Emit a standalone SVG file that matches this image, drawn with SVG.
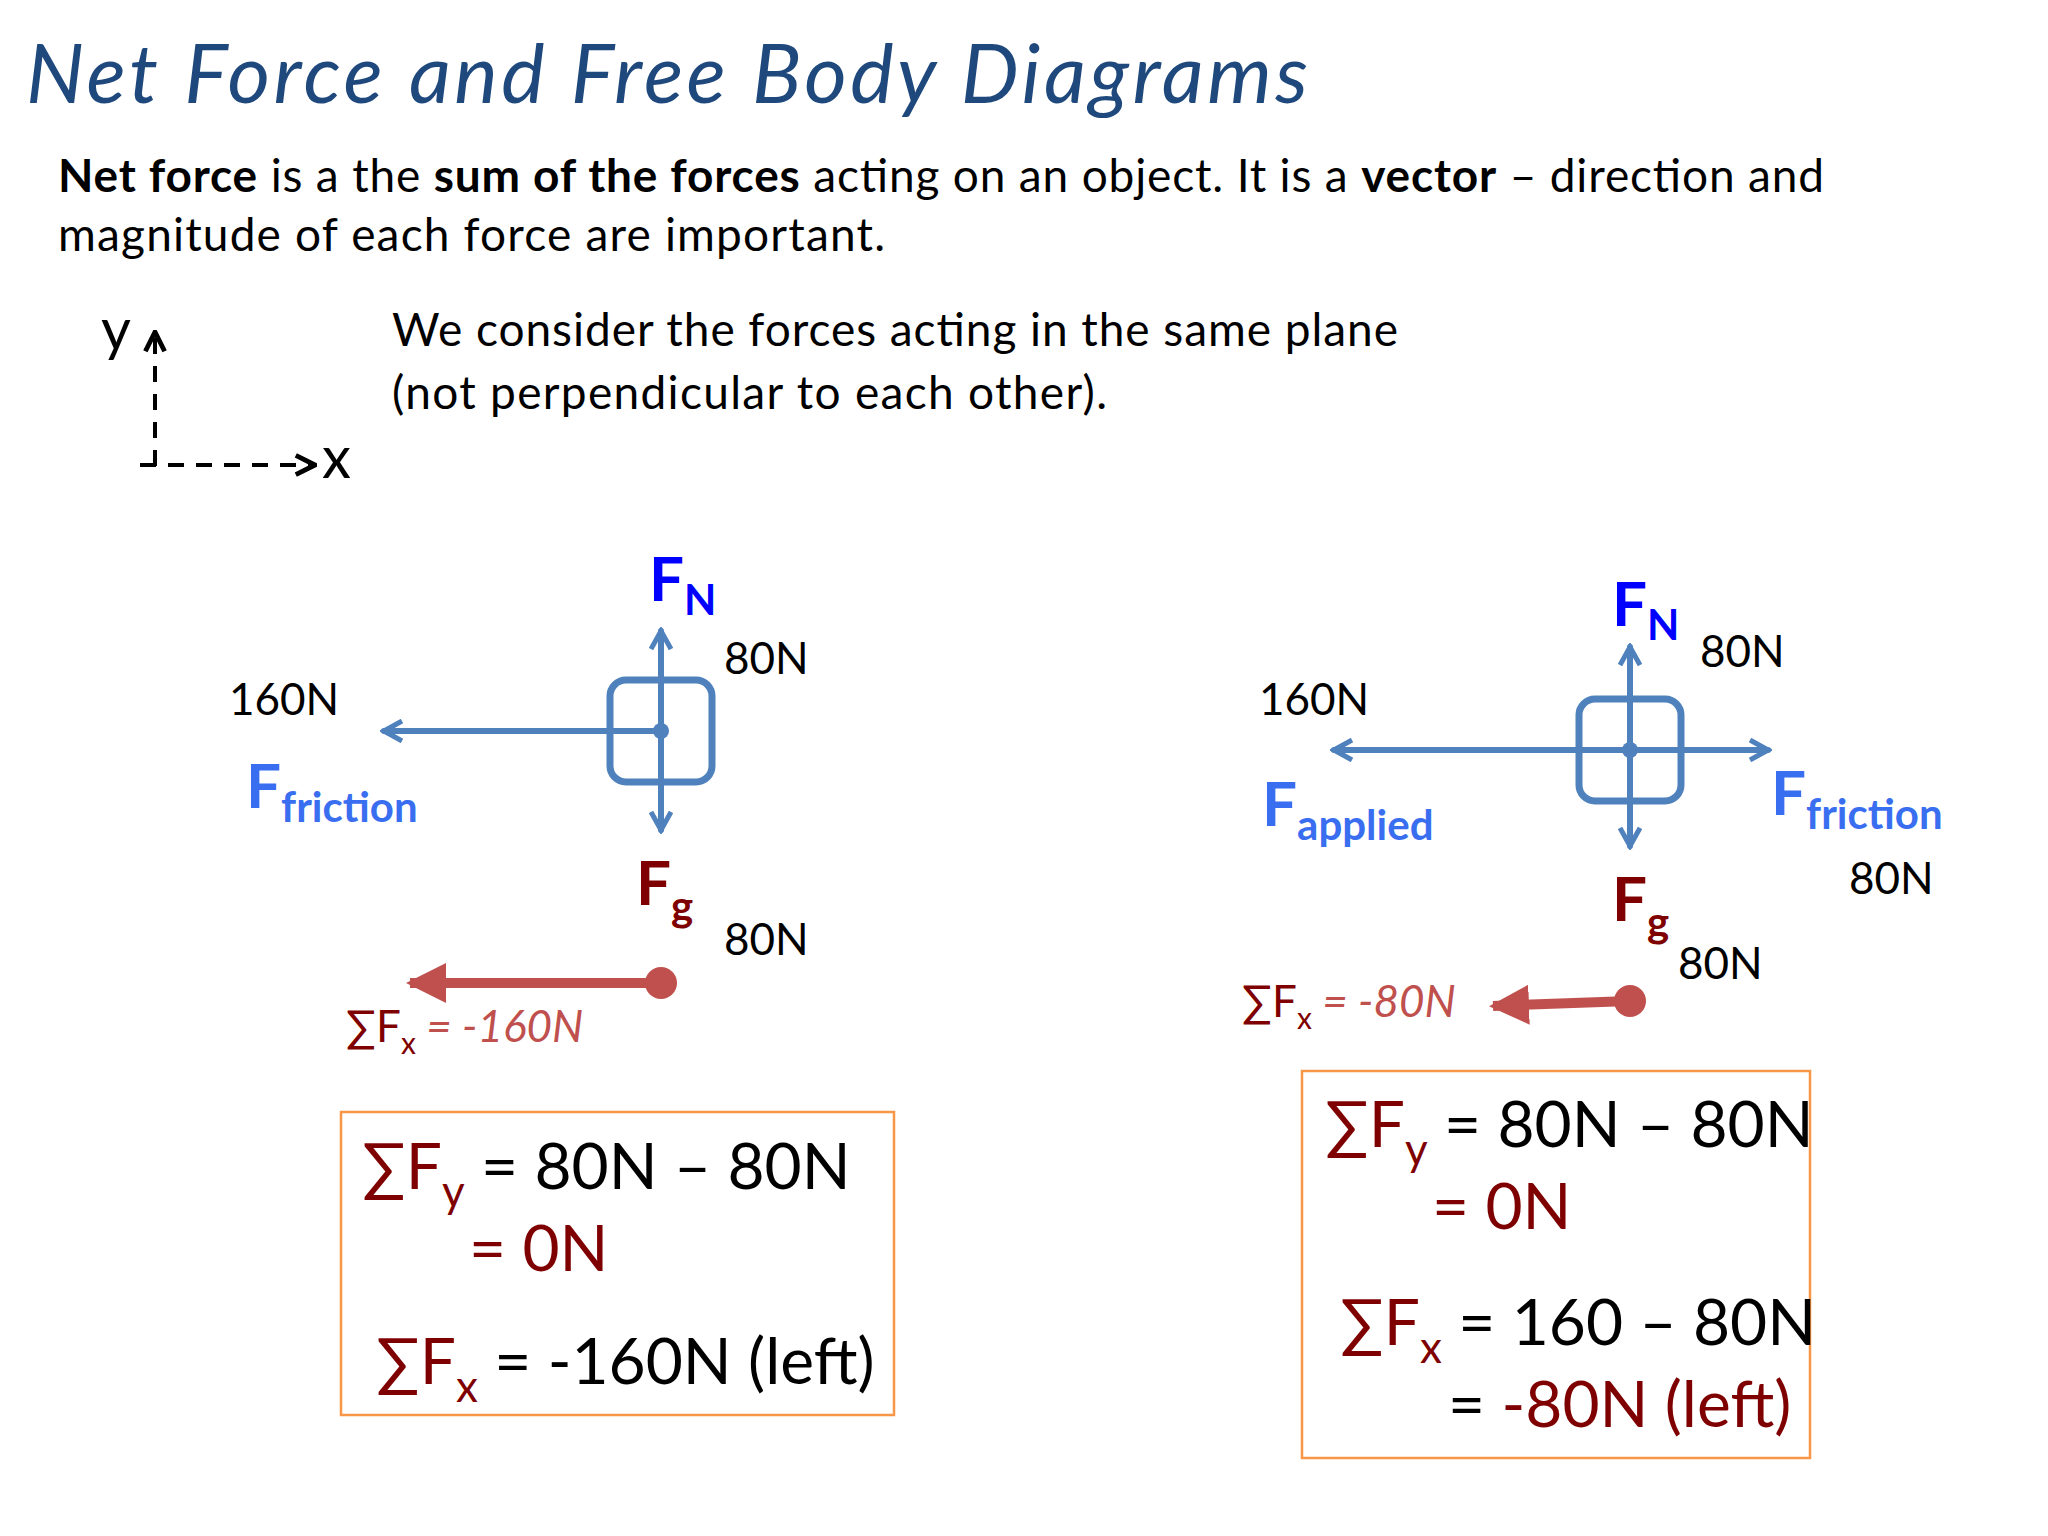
<svg xmlns="http://www.w3.org/2000/svg" width="2048" height="1536" viewBox="0 0 2048 1536">
<style>
text{font-family:Lato,"Open Sans","Liberation Sans",sans-serif;fill:#000}
.b{font-size:46px}
.lbl{font-size:44px}
.Fb{font-weight:bold;fill:#0000FF}
.Fl{font-weight:bold;fill:#3A6EF0}
.Fr{font-weight:bold;fill:#7F0000}
.vec{stroke:#4F81BD;stroke-width:6;fill:none;stroke-linecap:round}
.box{stroke:#4F81BD;stroke-width:7;fill:none}
.res{stroke:#C0504D;stroke-width:10;fill:none}
.ob{fill:#fff;stroke:#F79646;stroke-width:2.5}
.eq{font-size:64px}
.dr{fill:#7F0000}
.ri{fill:#C0504D;font-style:italic}
</style>
<defs>
<marker id="ab" viewBox="0 0 12 12" refX="10" refY="6" markerWidth="4" markerHeight="4" orient="auto"><path d="M1,1 L10,6 L1,11" fill="none" stroke="#4F81BD" stroke-width="2.5"/></marker>
<marker id="ar" viewBox="0 0 10 10" refX="9" refY="5" markerWidth="4" markerHeight="4" orient="auto"><path d="M0,0 L10,5 L0,10 z" fill="#C0504D"/></marker>
<marker id="ak" viewBox="0 0 10 10" refX="9" refY="5" markerWidth="6" markerHeight="6" orient="auto"><path d="M1,1 L9,5 L1,9" fill="none" stroke="#000" stroke-width="2"/></marker>
</defs>
<rect width="2048" height="1536" fill="#fff"/>
<text x="26" y="103" font-size="82" font-style="italic" fill="#1F497D" style="fill:#1F497D" textLength="1282">Net Force and Free Body Diagrams</text>
<text class="b" x="58" y="192" textLength="1766"><tspan font-weight="bold">Net force</tspan> is a the <tspan font-weight="bold">sum of the forces</tspan> acting on an object. It is a <tspan font-weight="bold">vector</tspan> – direction and</text>
<text class="b" x="58" y="251" textLength="827">magnitude of each force are important.</text>
<g id="axes">
<line x1="155" y1="466" x2="155" y2="332" stroke="#000" stroke-width="4" stroke-dasharray="16,12" marker-end="url(#ak)"/>
<line x1="140" y1="465" x2="315" y2="465" stroke="#000" stroke-width="4" stroke-dasharray="16,12" marker-end="url(#ak)"/>
<text x="101" y="350" font-size="58">y</text>
<text x="322" y="478" font-size="58">x</text>
</g>
<text class="b" x="392" y="346" textLength="1006">We consider the forces acting in the same plane</text>
<text class="b" x="392" y="409" textLength="715">(not perpendicular to each other).</text>

<g id="left-body">
<rect class="box" x="610" y="680" width="102" height="102" rx="16"/>
<circle cx="661" cy="731" r="8" fill="#4F81BD"/>
</g>
<g id="right-body">
<rect class="box" x="1579" y="699" width="102" height="102" rx="16"/>
<circle cx="1630" cy="750" r="8" fill="#4F81BD"/>
</g>
<g id="connectors">
<line class="vec" x1="661" y1="731" x2="661" y2="631" marker-end="url(#ab)"/>
<line class="vec" x1="661" y1="731" x2="661" y2="830" marker-end="url(#ab)"/>
<line class="vec" x1="661" y1="731" x2="384" y2="731" marker-end="url(#ab)"/>
<line class="res" x1="661" y1="983" x2="410" y2="983" marker-end="url(#ar)"/>
<circle cx="661" cy="983" r="16" fill="#C0504D"/>
<line class="vec" x1="1630" y1="750" x2="1630" y2="647" marker-end="url(#ab)"/>
<line class="vec" x1="1630" y1="750" x2="1630" y2="846" marker-end="url(#ab)"/>
<line class="vec" x1="1630" y1="750" x2="1334" y2="750" marker-end="url(#ab)"/>
<line class="vec" x1="1630" y1="750" x2="1768" y2="750" marker-end="url(#ab)"/>
<line class="res" x1="1630" y1="1001" x2="1493" y2="1006" marker-end="url(#ar)"/>
<circle cx="1630" cy="1001" r="16" fill="#C0504D"/>
</g>

<g id="left-labels">
<text x="649" y="601" font-size="62" class="Fb">F<tspan font-size="42" dy="14">N</tspan></text>
<text class="lbl" x="724" y="674">80N</text>
<text class="lbl" x="229" y="715">160N</text>
<text x="246" y="808" font-size="62" class="Fl">F<tspan font-size="42" dy="14">friction</tspan></text>
<text x="636" y="905" font-size="62" class="Fr">F<tspan font-size="42" dy="16">g</tspan></text>
<text class="lbl" x="724" y="955">80N</text>
<text x="346" y="1042" font-size="44"><tspan class="dr">∑F</tspan><tspan class="dr" font-size="30" dy="12">x</tspan><tspan class="ri" dy="-12"> = -160N</tspan></text>
</g>
<g id="right-labels">
<text x="1612" y="626" font-size="62" class="Fb">F<tspan font-size="42" dy="14">N</tspan></text>
<text class="lbl" x="1700" y="667">80N</text>
<text class="lbl" x="1259" y="715">160N</text>
<text x="1262" y="826" font-size="62" class="Fl">F<tspan font-size="42" dy="14">applied</tspan></text>
<text x="1771" y="815" font-size="62" class="Fl">F<tspan font-size="42" dy="14">friction</tspan></text>
<text class="lbl" x="1849" y="894">80N</text>
<text x="1612" y="921" font-size="62" class="Fr">F<tspan font-size="42" dy="16">g</tspan></text>
<text class="lbl" x="1678" y="979">80N</text>
<text x="1242" y="1017" font-size="44"><tspan class="dr">∑F</tspan><tspan class="dr" font-size="30" dy="12">x</tspan><tspan class="ri" dy="-12"> = -80N</tspan></text>
</g>

<g id="left-eq">
<rect class="ob" x="341" y="1112" width="553" height="303"/>
<text class="eq" x="362" y="1189"><tspan class="dr">∑F</tspan><tspan class="dr" font-size="44" dy="18">y</tspan><tspan dy="-18"> = 80N – 80N</tspan></text>
<text class="eq dr" x="469" y="1271">= 0N</text>
<text class="eq" x="376" y="1384"><tspan class="dr">∑F</tspan><tspan class="dr" font-size="44" dy="18">x</tspan><tspan dy="-18"> =  -160N (left)</tspan></text>
</g>
<g id="right-eq">
<rect class="ob" x="1302" y="1071" width="508" height="387"/>
<text class="eq" x="1325" y="1147"><tspan class="dr">∑F</tspan><tspan class="dr" font-size="44" dy="18">y</tspan><tspan dy="-18"> = 80N – 80N</tspan></text>
<text class="eq dr" x="1432" y="1229">= 0N</text>
<text class="eq" x="1340" y="1345"><tspan class="dr">∑F</tspan><tspan class="dr" font-size="44" dy="18">x</tspan><tspan dy="-18"> = 160 – 80N</tspan></text>
<text class="eq" x="1448" y="1427">= <tspan class="dr">-80N (left)</tspan></text>
</g>
</svg>
